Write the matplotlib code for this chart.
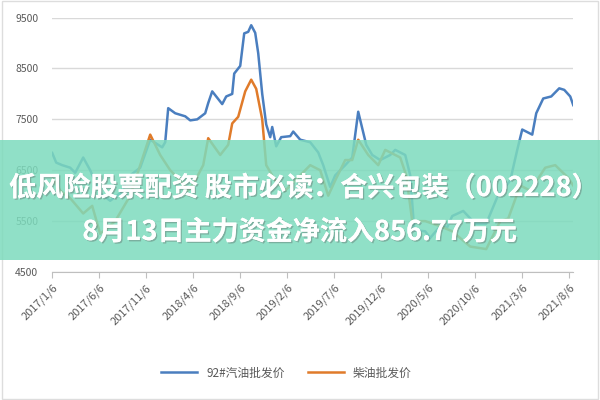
import matplotlib
matplotlib.use("Agg")
import matplotlib.pyplot as plt
from matplotlib.patches import Rectangle
import matplotlib.patheffects as pe

plt.rcParams['font.family'] = ['Noto Sans CJK SC', 'DejaVu Sans']

tick_labels = ["2017/1/6", "2017/6/6", "2017/11/6", "2018/4/6", "2018/9/6", "2019/2/6",
               "2019/7/6", "2019/12/6", "2020/5/6", "2020/10/6", "2021/3/6", "2021/8/6"]
tick_months = [0, 5, 10, 15, 20, 25, 30, 35, 40, 45, 50, 55]

# x pixel positions -> converted to months below
blue_px = [52, 56, 62, 70, 75, 83, 90, 100, 110, 120, 130, 140, 150, 158, 162, 165, 168, 175, 185, 190,
           197, 205, 208, 212, 218, 222, 226, 232, 234, 240, 244, 248, 251, 255, 258, 262, 266, 270,
           272, 276, 281, 290, 293, 300, 310, 318, 323, 330, 335, 345, 352, 358, 366, 372, 380, 390,
           395, 400, 405, 410, 414, 425, 430, 440, 447, 452, 463, 475, 486, 497, 510, 517, 522, 532,
           536, 543, 551, 559, 564, 570, 573]
blue_val = [6840, 6650, 6600, 6550, 6450, 6750, 6500, 6050, 5900, 6050, 6400, 6550, 7100, 7000, 6950, 7050,
            7720, 7620, 7560, 7480, 7500, 7620, 7820, 8050, 7900, 7800, 7950, 8000, 8400, 8550, 9190,
            9220, 9350, 9200, 8800, 8000, 7400, 7150, 7350, 6970, 7150, 7170, 7260, 7100, 7050, 6850,
            6600, 6170, 6400, 6600, 6750, 7650, 7000, 6800, 6700, 6800, 6900, 6850, 6800, 6400, 5320,
            5300, 5170, 5400, 5380, 5600, 5700, 5450, 5450, 5970, 6300, 6900, 7300, 7200, 7620, 7910,
            7950, 8110, 8080, 7950, 7780]
orange_px = [52, 60, 70, 83, 92, 100, 115, 130, 140, 150, 160, 170, 180, 188, 195, 203, 208, 220, 228,
             232, 238, 245, 251, 256, 262, 266, 275, 285, 300, 310, 320, 328, 335, 345, 352, 358, 368,
             378, 385, 400, 406, 412, 425, 440, 452, 470, 486, 500, 508, 520, 530, 545, 555, 568, 573]
orange_val = [6350, 6100, 5950, 5650, 5800, 5250, 5500, 6000, 6600, 7200, 6800, 6500, 6300, 6100, 6300,
              6600, 7130, 6800, 7000, 7420, 7550, 8050, 8280, 8100, 7500, 6600, 6300, 6100, 6400, 6600,
              6500, 6000, 6300, 6700, 6700, 7100, 6800, 6600, 6900, 6750, 6400, 5500, 5500, 5400, 5300,
              5000, 4950, 5500, 5550, 6200, 6100, 6550, 6600, 6350, 6200]

def to_month(px):
    return [(p - 52) / 9.4 for p in px]

fig = plt.figure(figsize=(6, 4), dpi=100)
fig.patch.set_facecolor("white")
fig.patches.append(Rectangle((0.003, 0.003), 0.994, 0.994, transform=fig.transFigure,
                             fill=False, edgecolor="#dddddd", lw=1))
ax = fig.add_axes([0.087, 0.32, 0.868, 0.636])
ax.plot(to_month(blue_px), blue_val, color="#4a7ebf", lw=1.8, label="92#汽油批发价")
ax.plot(to_month(orange_px), orange_val, color="#e07b2a", lw=1.8, label="柴油批发价")
ax.set_ylim(4500, 9500)
ax.set_xlim(0, 55.4)
ax.set_yticks([4500, 5500, 6500, 7500, 8500, 9500])
ax.yaxis.grid(True, color="#d9d9d9", lw=1)
ax.set_axisbelow(True)
for s in ["top", "right", "left"]:
    ax.spines[s].set_visible(False)
ax.spines["bottom"].set_color("#bfbfbf")
ax.tick_params(axis="y", length=0, labelsize=7.5, colors="#595959", pad=10)
ax.set_xticks(tick_months)
ax.set_xticklabels(tick_labels, rotation=45, ha="right", rotation_mode="anchor", fontsize=8, color="#595959")
ax.tick_params(axis="x", length=4, color="#bfbfbf", colors="#595959")
ax.legend(loc="upper center", bbox_to_anchor=(0.45, -0.33), ncol=2, frameon=False, fontsize=8.5,
          labelcolor="#595959", handlelength=3)

fig.patches.append(Rectangle((0, 1 - 260 / 400), 1, 120 / 400, transform=fig.transFigure,
                             facecolor="#7ddbbd", alpha=0.85, edgecolor="none", zorder=5))
shadow = [pe.withSimplePatchShadow(offset=(1, -1), shadow_rgbFace="#555555", alpha=0.35), pe.Normal()]
fig.text(0.507, 1 - 188 / 400, "低风险股票配资 股市必读：合兴包装（002228）", ha="center", va="center",
         fontsize=19.5, fontweight="bold", color="white", zorder=6, path_effects=shadow)
fig.text(0.5, 1 - 232 / 400, "8月13日主力资金净流入856.77万元", ha="center", va="center",
         fontsize=19.5, fontweight="bold", color="white", zorder=6, path_effects=shadow)

fig.savefig("out.png", dpi=100)
